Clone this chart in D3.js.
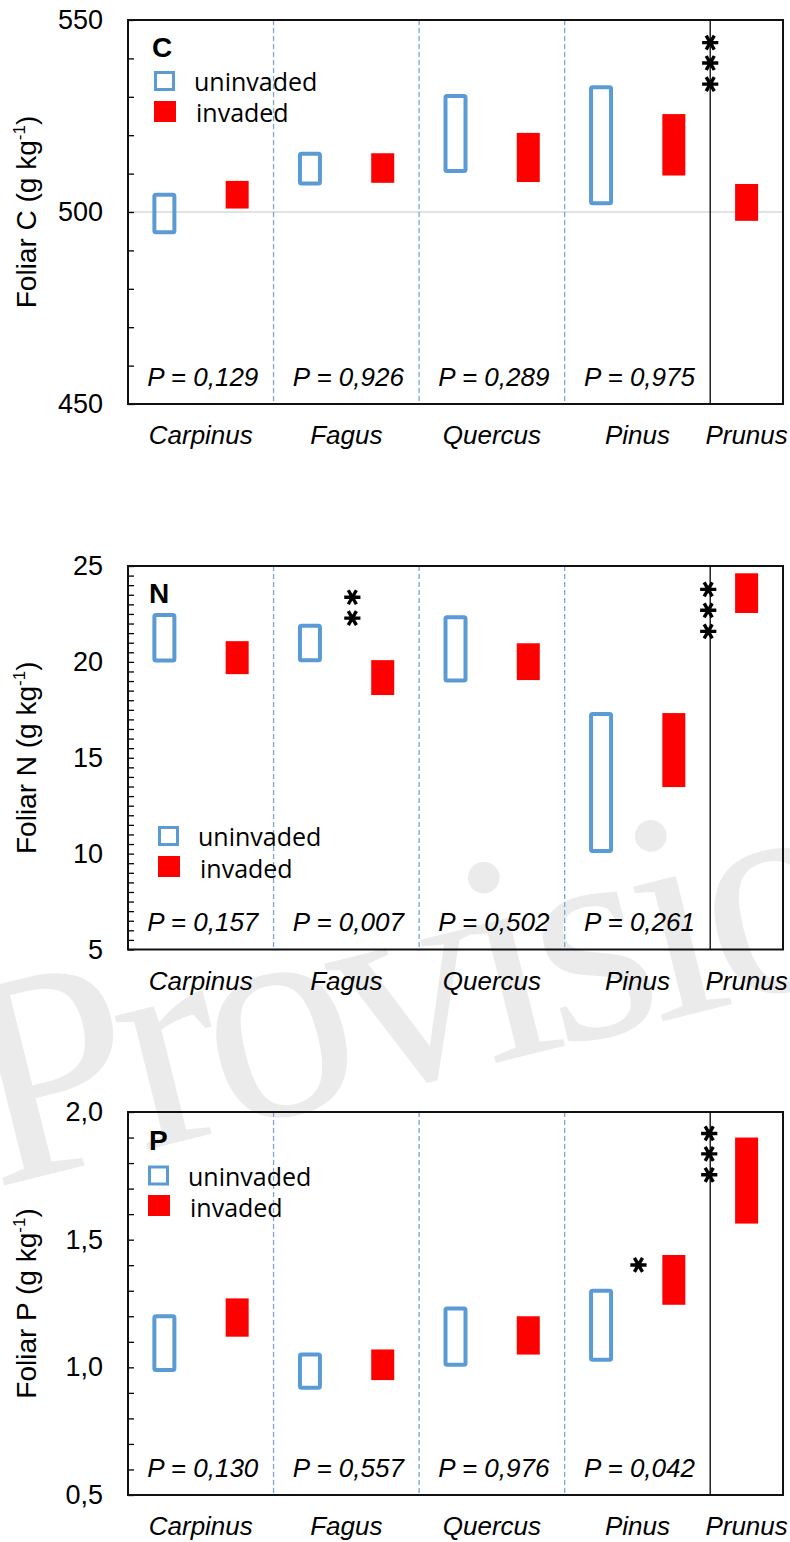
<!DOCTYPE html>
<html>
<head>
<meta charset="utf-8">
<script src="https://cdn.jsdelivr.net/npm/d3@7"></script>
<style>
  body { margin: 0; background: #fff; }
  svg { display: block; }
</style>
</head>
<body>
<div id="chart"></div>
<script>
// species and the plotting slots (uninvaded / invaded side by side, Prunus only invaded)
const species = ["Carpinus", "Fagus", "Quercus", "Pinus", "Prunus"];
const slots = ["Carpinus-u", "Carpinus-i", "Fagus-u", "Fagus-i", "Quercus-u", "Quercus-i", "Pinus-u", "Pinus-i", "Prunus-i"];

// foliar C, g/kg  [low, high]
const cUninvaded = [[494.7, 504.5], [507.4, 515.2], [510.7, 530.2], [502.3, 532.5], null];
const cInvaded = [[500.9, 508.1], [507.6, 515.3], [507.8, 520.6], [509.5, 525.5], [497.7, 507.3]];
const cPValues = ["0,129", "0,926", "0,289", "0,975"];
const cTicks = [450, 500, 550];
const cTickLabels = ["450", "500", "550"];
const cStars = [{ slot: "Prunus-i", dx: 0, values: [544.1, 538.8, 533.3] }];

// foliar N, g/kg
const nUninvaded = [[20.07, 22.45], [20.09, 21.88], [19.03, 22.33], [10.14, 17.28], null];
const nInvaded = [[19.36, 21.08], [18.27, 20.09], [19.05, 20.97], [13.47, 17.33], [22.55, 24.62]];
const nPValues = ["0,157", "0,007", "0,502", "0,261"];
const nTicks = [5, 10, 15, 20, 25];
const nTickLabels = ["5", "10", "15", "20", "25"];
const nStars = [
  { slot: "Fagus-i", dx: 6, values: [23.37, 22.28] },
  { slot: "Prunus-i", dx: -2, values: [23.78, 22.69, 21.59] }
];

// foliar P, g/kg
const pUninvaded = [[0.99, 1.20], [0.92, 1.05], [1.01, 1.23], [1.03, 1.30], null];
const pInvaded = [[1.12, 1.27], [0.95, 1.07], [1.05, 1.20], [1.245, 1.44], [1.563, 1.90]];
const pPValues = ["0,130", "0,557", "0,976", "0,042"];
const pTicks = [0.5, 1.0, 1.5, 2.0];
const pTickLabels = ["0,5", "1,0", "1,5", "2,0"];
const pStars = [
  { slot: "Pinus-i", dx: 1, values: [1.401] },
  { slot: "Prunus-i", dx: -1, values: [1.916, 1.836, 1.754] }
];

const width = 790;
const height = 1542;
const left = 128;
const right = 783;
const blue = "#5b9bd5";
const red = "#ff0000";

const panels = [
  {
    letter: "C", element: "C", top: 20, h: 384, domain: [450, 550], minor: 10,
    ticks: cTicks, tickLabels: cTickLabels, grid: [500],
    uninvaded: cUninvaded, invaded: cInvaded, pvalues: cPValues, stars: cStars,
    legend: { lx: 24, ly: 37, sx: 26, sy: [51, 81], tx: 66, ty: [71, 102] }
  },
  {
    letter: "N", element: "N", top: 566, h: 383.5, domain: [5, 25], minor: 0.5,
    ticks: nTicks, tickLabels: nTickLabels, grid: [],
    uninvaded: nUninvaded, invaded: nInvaded, pvalues: nPValues, stars: nStars,
    legend: { lx: 21, ly: 37, sx: 30, sy: [260, 290], tx: 70, ty: [280, 312] }
  },
  {
    letter: "P", element: "P", top: 1112, h: 383, domain: [0.5, 2.0], minor: 0.1,
    ticks: pTicks, tickLabels: pTickLabels, grid: [],
    uninvaded: pUninvaded, invaded: pInvaded, pvalues: pPValues, stars: pStars,
    legend: { lx: 21, ly: 38, sx: 20, sy: [53.5, 83], tx: 60, ty: [74, 104.5] }
  }
];

const svg = d3
  .select("#chart")
  .append("svg")
  .attr("width", width)
  .attr("height", height);

// watermark
svg
  .append("text")
  .attr("transform", "translate(-6, 1188) rotate(-14)")
  .attr("font-family", "Liberation Serif, serif")
  .attr("font-size", 300)
  .attr("letter-spacing", -14)
  .attr("fill", "#ebebeb")
  .text("Provisional");

const x = d3.scaleBand().domain(slots).range([left, right]);
const bw = x.bandwidth();

const starSymbol = d3.symbol(d3.symbolAsterisk, 185);

panels.forEach((p) => {
  const y = d3.scaleLinear().domain(p.domain).range([p.top + p.h, p.top]);
  const g = svg.append("g");

  // light gridline
  g.selectAll(".grid")
    .data(p.grid)
    .enter()
    .append("line")
    .attr("x1", left)
    .attr("x2", right)
    .attr("y1", (d) => y(d))
    .attr("y2", (d) => y(d))
    .attr("stroke", "#d9d9d9")
    .attr("stroke-width", 1.5);

  // group dividers
  species.slice(1).forEach((sp) => {
    const key = sp === "Prunus" ? sp + "-i" : sp + "-u";
    const xx = x(key);
    g.append("line")
      .attr("x1", xx)
      .attr("x2", xx)
      .attr("y1", p.top)
      .attr("y2", p.top + p.h)
      .attr("stroke", sp === "Prunus" ? "#222" : "#7aa6d9")
      .attr("stroke-width", sp === "Prunus" ? 1.5 : 1.3)
      .attr("stroke-dasharray", sp === "Prunus" ? null : "5,3");
  });

  // minor ticks pointing inward
  const minorTicks = d3.range(p.domain[0], p.domain[1] + p.minor / 2, p.minor);
  g.append("g")
    .attr("transform", `translate(${left},0)`)
    .call(d3.axisRight(y).tickValues(minorTicks).tickSize(6).tickFormat(""))
    .call((a) => a.select(".domain").remove())
    .call((a) => a.selectAll("line").attr("stroke", "#000").attr("stroke-width", 1.3));

  // major tick labels
  g.append("g")
    .attr("transform", `translate(${left},0)`)
    .call(
      d3.axisLeft(y)
        .tickValues(p.ticks)
        .tickSize(0)
        .tickPadding(25)
        .tickFormat((d, i) => p.tickLabels[i])
    )
    .call((a) => a.select(".domain").remove())
    .call((a) =>
      a.selectAll("text")
        .attr("font-family", "Liberation Sans, Arial, sans-serif")
        .attr("font-size", 27)
        .attr("fill", "#000")
    );

  // frame
  g.append("rect")
    .attr("x", left)
    .attr("y", p.top)
    .attr("width", right - left)
    .attr("height", p.h)
    .attr("fill", "none")
    .attr("stroke", "#111")
    .attr("stroke-width", 2);

  // boxes
  species.forEach((sp, i) => {
    const u = p.uninvaded[i];
    if (u) {
      g.append("rect")
        .attr("x", x(sp + "-u") + (bw - 20) / 2)
        .attr("y", y(u[1]))
        .attr("width", 20)
        .attr("height", y(u[0]) - y(u[1]))
        .attr("rx", 1.5)
        .attr("fill", "none")
        .attr("stroke", blue)
        .attr("stroke-width", 4);
    }
    const v = p.invaded[i];
    if (v) {
      g.append("rect")
        .attr("x", x(sp + "-i") + (bw - 23) / 2)
        .attr("y", y(v[1]))
        .attr("width", 23)
        .attr("height", y(v[0]) - y(v[1]))
        .attr("fill", red);
    }
  });

  // P values
  p.pvalues.forEach((val, i) => {
    const sp = species[i];
    const cx = (x(sp + "-u") + x(sp + "-i") + bw) / 2 + 2;
    g.append("text")
      .attr("x", cx)
      .attr("y", p.top + p.h - 18.5)
      .attr("text-anchor", "middle")
      .attr("font-family", "Liberation Sans, Arial, sans-serif")
      .attr("font-style", "italic")
      .attr("font-size", 26)
      .text(`P = ${val}`);
  });

  // category labels
  species.forEach((sp) => {
    const first = sp === "Prunus" ? sp + "-i" : sp + "-u";
    const cx = (x(first) + x(sp + "-i") + bw) / 2;
    g.append("text")
      .attr("x", cx)
      .attr("y", p.top + p.h + 40)
      .attr("text-anchor", "middle")
      .attr("font-family", "Liberation Sans, Arial, sans-serif")
      .attr("font-style", "italic")
      .attr("font-size", 26)
      .text(sp);
  });

  // significance stars
  p.stars.forEach((s) => {
    g.selectAll(null)
      .data(s.values)
      .enter()
      .append("path")
      .attr("d", starSymbol)
      .attr("transform", (d) => `translate(${x(s.slot) + s.dx},${y(d)}) rotate(90)`)
      .attr("fill", "none")
      .attr("stroke", "#000")
      .attr("stroke-width", 3.4);
  });

  // panel letter and legend
  const L = p.legend;
  g.append("text")
    .attr("x", left + L.lx)
    .attr("y", p.top + L.ly)
    .attr("font-family", "Liberation Sans, Arial, sans-serif")
    .attr("font-weight", "bold")
    .attr("font-size", 28)
    .text(p.letter);

  g.append("rect")
    .attr("x", left + L.sx + 1.5)
    .attr("y", p.top + L.sy[0] + 1.5)
    .attr("width", 18)
    .attr("height", 17)
    .attr("fill", "none")
    .attr("stroke", blue)
    .attr("stroke-width", 3);
  g.append("rect")
    .attr("x", left + L.sx)
    .attr("y", p.top + L.sy[1])
    .attr("width", 22)
    .attr("height", 21)
    .attr("fill", red);

  ["uninvaded", "invaded"].forEach((t, i) => {
    g.append("text")
      .attr("x", left + L.tx + i * 2)
      .attr("y", p.top + L.ty[i])
      .attr("font-family", "Open Sans, sans-serif")
      .attr("font-size", 25)
      .text(t);
  });

  // y axis title
  const title = g
    .append("text")
    .attr("transform", `translate(36,${p.top + p.h / 2}) rotate(-90)`)
    .attr("text-anchor", "middle")
    .attr("font-family", "Liberation Sans, Arial, sans-serif")
    .attr("font-size", 28);
  title.append("tspan").text(`Foliar ${p.element} (g kg`);
  title.append("tspan").attr("font-size", 17).attr("dy", -11).text("-1");
  title.append("tspan").attr("dy", 11).text(")");
});
</script>
</body>
</html>
